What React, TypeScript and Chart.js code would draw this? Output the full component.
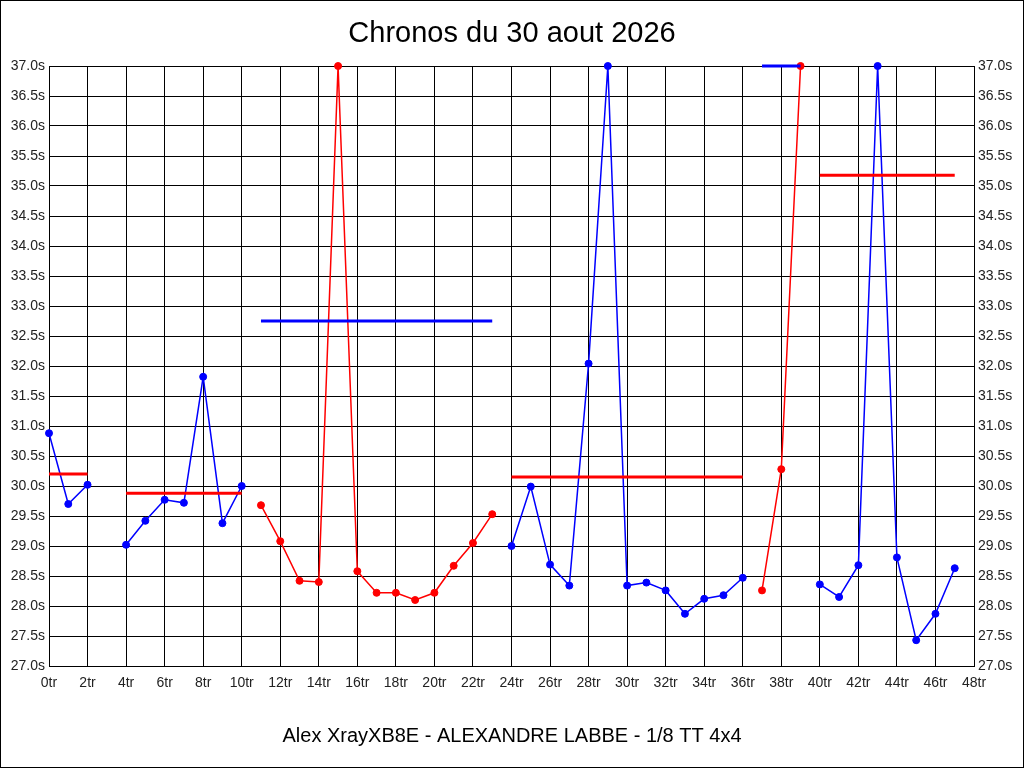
import React, { useEffect, useRef } from "react";
import { Chart, registerables } from "chart.js";

Chart.register(...registerables);

const titleText = "Chronos du 30 aout 2026";
const footerText = "Alex XrayXB8E - ALEXANDRE LABBE - 1/8 TT 4x4";

// lap times in seconds (null = no lap recorded)
const lapTimes: (number | null)[] = [
  30.88, 29.7, 30.02, null, 29.02, 29.42, 29.77, 29.72, 31.82, 29.38,
  30.0, 29.68, 29.08, 28.42, 28.4, 81.6, 28.58, 28.22, 28.22, 28.1,
  28.22, 28.67, 29.05, 29.53, 29.0, 29.99, 28.69, 28.34, 32.04, 46.3,
  28.34, 28.39, 28.26, 27.87, 28.12, 28.18, 28.47, 28.26, 30.28, 55.0,
  28.36, 28.15, 28.68, 83.5, 28.81, 27.43, 27.87, 28.63,
];

// runs (segments) of laps
const segmentStart = [0, 4, 11, 24, 37, 40];
const segmentEnd = [2, 10, 23, 36, 39, 47];
const segmentColor = ["#0000ff", "#0000ff", "#ff0000", "#0000ff", "#ff0000", "#0000ff"];
const segmentAverage = [30.2, 29.88, 32.75, 30.15, 37.85, 35.18];
const averageColor = ["#ff0000", "#ff0000", "#0000ff", "#ff0000", "#0000ff", "#ff0000"];

const yMin = 27;
const yMax = 37;
const yStep = 0.5;
const xMin = 0;
const xMax = 48;
const xStep = 2;

const FONT = "'Liberation Sans', Arial, sans-serif";

export default function App() {
  const ref = useRef<HTMLCanvasElement | null>(null);

  useEffect(() => {
    document.body.style.margin = "0";
    const canvas = ref.current;
    if (!canvas) return;

    const clamp = (v: number) => Math.min(yMax, v);

    const segDatasets = segmentStart.map((s, i) => {
      const pts: { x: number; y: number }[] = [];
      for (let lap = s; lap <= segmentEnd[i]; lap++) {
        const v = lapTimes[lap];
        if (v !== null && v !== undefined) pts.push({ x: lap, y: clamp(v) });
      }
      return {
        label: "run" + i,
        data: pts,
        borderColor: segmentColor[i],
        backgroundColor: segmentColor[i],
        borderWidth: 1.5,
        pointRadius: 3.5,
        pointBorderWidth: 1,
        pointHoverRadius: 3.5,
        tension: 0,
        clip: 8,
        order: 1,
        yAxisID: "y",
      };
    });

    const avgDatasets = segmentStart.map((s, i) => ({
      label: "avg" + i,
      data: [
        { x: s, y: clamp(segmentAverage[i]) },
        { x: segmentEnd[i], y: clamp(segmentAverage[i]) },
      ],
      borderColor: averageColor[i],
      backgroundColor: averageColor[i],
      borderWidth: 3,
      pointRadius: 0,
      pointHoverRadius: 0,
      tension: 0,
      clip: 8,
      order: 0,
      yAxisID: "y",
    }));

    const framePlugin = {
      id: "frame",
      beforeDraw(chart: any) {
        const ctx = chart.ctx;
        ctx.save();
        ctx.fillStyle = "#ffffff";
        ctx.fillRect(0, 0, chart.width, chart.height);
        ctx.restore();
      },
      afterDraw(chart: any) {
        const ctx = chart.ctx;
        ctx.save();
        ctx.strokeStyle = "#000000";
        ctx.lineWidth = 1;
        ctx.strokeRect(0.5, 0.5, chart.width - 1, chart.height - 1);
        ctx.restore();
      },
    };

    const tickFont = { family: FONT, size: 14 };
    const yTicks = {
      stepSize: yStep,
      color: "#222",
      font: tickFont,
      padding: 4,
      autoSkip: false,
      callback: (v: any) => Number(v).toFixed(1) + "s",
    };

    const chart = new Chart(canvas, {
      type: "line",
      data: { datasets: [...avgDatasets, ...segDatasets] as any },
      plugins: [framePlugin],
      options: {
        animation: false,
        responsive: false,
        devicePixelRatio: 1,
        layout: { padding: 0 },
        plugins: {
          legend: { display: false },
          tooltip: { enabled: false },
          title: {
            display: true,
            text: titleText,
            color: "#000",
            font: { family: FONT, size: 29, weight: "normal" },
            padding: { top: 16.5, bottom: 14.7 },
          },
          subtitle: {
            display: true,
            position: "bottom",
            text: footerText,
            color: "#000",
            font: { family: FONT, size: 20, weight: "normal" },
            padding: { top: 18, bottom: 20 },
          },
        },
        scales: {
          x: {
            type: "linear",
            min: xMin,
            max: xMax,
            ticks: {
              stepSize: xStep,
              color: "#222",
              font: tickFont,
              padding: 9,
              autoSkip: false,
              maxRotation: 0,
              callback: (v: any) => v + "tr",
            },
            grid: { color: "#000", lineWidth: 1, drawTicks: false },
            border: { color: "#000", width: 1 },
            afterFit: (s: any) => {
              s.height = 40;
            },
          },
          y: {
            type: "linear",
            position: "left",
            min: yMin,
            max: yMax,
            ticks: yTicks,
            grid: { color: "#000", lineWidth: 1, drawTicks: false },
            border: { color: "#000", width: 1 },
            afterFit: (s: any) => {
              s.width = 49;
            },
          },
          y2: {
            type: "linear",
            position: "right",
            min: yMin,
            max: yMax,
            ticks: yTicks,
            grid: { drawOnChartArea: false, drawTicks: false },
            border: { color: "#000", width: 1 },
            afterFit: (s: any) => {
              s.width = 50;
            },
          },
        },
      } as any,
    });

    return () => chart.destroy();
  }, []);

  return (
    <canvas
      ref={ref}
      width={1024}
      height={768}
      style={{ display: "block", width: 1024, height: 768 }}
    />
  );
}
